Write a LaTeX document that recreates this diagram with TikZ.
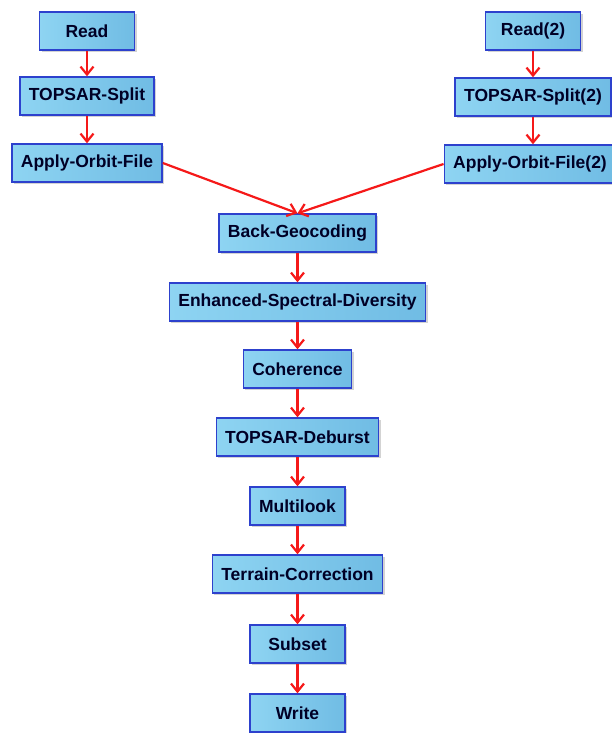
\documentclass[tikz,border=0pt]{standalone}
\usepackage{fontspec}
\setmainfont{Liberation Sans}
\usetikzlibrary{arrows.meta}
\usetikzlibrary{shadows}

\definecolor{boxleft}{RGB}{142,212,242}
\definecolor{boxright}{RGB}{112,188,228}
\definecolor{boxline}{RGB}{45,65,205}
\definecolor{flowred}{RGB}{245,25,25}

\begin{document}
\begin{tikzpicture}[x=1pt,y=-1pt]

\tikzstyle{box}=[draw=boxline, line width=1.4pt, left color=boxleft, right color=boxright,
  align=center, minimum height=38pt, minimum width=95pt, inner xsep=9pt,
  font=\fontsize{17.5}{19}\selectfont\bfseries,
  text=black!85!blue, drop shadow={opacity=0.35, shadow xshift=2pt, shadow yshift=-2pt}]
\tikzstyle{flow}=[draw=flowred, line width=2.2pt, -{Straight Barb[length=8pt,width=13pt]}]

\useasboundingbox (0,0) rectangle (612,733);

% left branch
\node[box] (read) at (87,31) {Read};
\node[box] (split) at (87,96) {TOPSAR-Split};
\node[box] (orbit) at (87,163) {Apply-Orbit-File};
% right branch
\node[box] (readb) at (533,31) {Read(2)};
\node[box] (splitb) at (533,97) {TOPSAR-Split(2)};
\node[box] (orbitb) at (530,164) {Apply-Orbit-File(2)};
% main chain
\node[box] (geocode) at (297.5,233) {Back-Geocoding};
\node[box] (esd) at (297.5,302) {Enhanced-Spectral-Diversity};
\node[box] (coher) at (297.5,369) {Coherence};
\node[box] (deburst) at (297.5,437) {TOPSAR-Deburst};
\node[box] (multi) at (297.5,506) {Multilook};
\node[box] (terrain) at (297.5,574) {Terrain-Correction};
\node[box] (subset) at (297.5,644) {Subset};
\node[box] (write) at (297.5,713) {Write};

\draw[flow] (read) -- (split);
\draw[flow] (split) -- (orbit);
\draw[flow] (readb) -- (splitb);
\draw[flow] (splitb.south) -- (splitb.south |- orbitb.north);
\draw[flow] (orbit.east) -- (geocode.north);
\draw[flow] (orbitb.west) -- (geocode.north);
\draw[flow] (geocode) -- (esd);
\draw[flow] (esd) -- (coher);
\draw[flow] (coher) -- (deburst);
\draw[flow] (deburst) -- (multi);
\draw[flow] (multi) -- (terrain);
\draw[flow] (terrain) -- (subset);
\draw[flow] (subset) -- (write);
\end{tikzpicture}
\end{document}
